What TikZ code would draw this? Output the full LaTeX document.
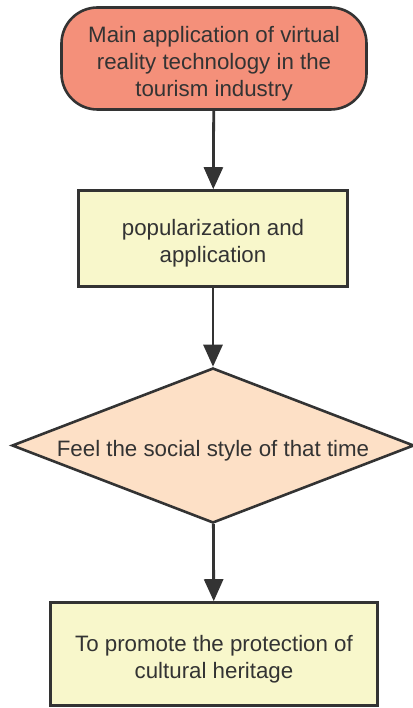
\documentclass[tikz,border=0pt]{standalone}
\usepackage{fontspec}
\setmainfont{Liberation Sans}
\usepackage{tikz}
\usetikzlibrary{shapes.geometric, arrows.meta}

\definecolor{salmon}{HTML}{F4907A}
\definecolor{paleyellow}{HTML}{F8F7CB}
\definecolor{peach}{HTML}{FDE0C6}
\definecolor{ink}{HTML}{333333}

% niewidoczny slupek, obniza tekst w wezle
\newcommand{\lift}{\rule{0pt}{26pt}}

\tikzset{
	every node/.style = {font=\fontsize{22.3pt}{27pt}\selectfont, text=ink, align=center, inner sep=0pt},
	stadium/.style = {draw=ink, line width=2.6pt, fill=salmon, rounded corners=36pt},
	procbox/.style = {draw=ink, line width=2.6pt, fill=paleyellow, rectangle},
	decision/.style = {draw=ink, line width=2.6pt, fill=peach, diamond, aspect=2.6},
	flow/.style = {draw=ink, line width=2.8pt, -{Triangle[length=22pt, width=19pt]}}
}

\begin{document}
\begin{tikzpicture}
		\useasboundingbox (0pt,0pt) rectangle (412pt,-708pt);
		
		% start
		\node[stadium, minimum width = 305pt, minimum height = 102pt] (start) at (214pt,-58.5pt)
		{\lift Main application of virtual\\reality technology in the\\tourism industry};
		
		\node[procbox, minimum width = 269pt, minimum height = 96pt] (popular) at (213pt,-238.5pt)
		{\lift popularization and\\application};
		
		% romb
		\node[decision, minimum width = 402pt, minimum height = 155pt] (feel) at (213pt,-445.5pt)
		{\lift Feel the social style of that time};
		
		\node[procbox, minimum width = 327pt, minimum height = 103pt] (protect) at (214pt,-654pt)
		{\lift To promote the protection of\\cultural heritage};
		
		\draw[flow] (start) -- (popular);
		\draw[flow] (popular) -- (feel);
		\draw[flow] (feel) -- (protect);
	\end{tikzpicture}
\end{document}
